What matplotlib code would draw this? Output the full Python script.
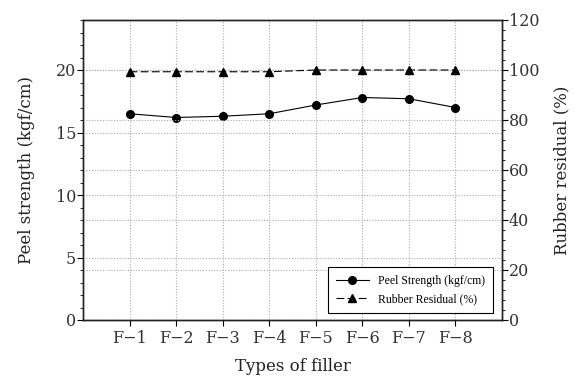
import matplotlib
matplotlib.use("Agg")
import matplotlib.pyplot as plt
from matplotlib.ticker import MultipleLocator

categories = ["F\u22121", "F\u22122", "F\u22123", "F\u22124", "F\u22125", "F\u22126", "F\u22127", "F\u22128"]
peel_strength = [16.5, 16.2, 16.3, 16.5, 17.2, 17.8, 17.7, 17.0]
rubber_residual = [99.3, 99.3, 99.3, 99.3, 100.0, 100.0, 100.0, 100.0]

plt.rcParams['font.family'] = ['DejaVu Serif']

fig = plt.figure(figsize=(5.83, 3.76), dpi=100)
ax = fig.add_axes([83/583, 1-320/376, (502-83)/583, 300/376])
ax2 = ax.twinx()

x = list(range(1, len(categories) + 1))
grid_kw = dict(color='#aaaaaa', linestyle=(0, (1, 1.5)), linewidth=0.8)

ax.set_xlim(0, 9)
ax.set_ylim(0, 24)
ax2.set_ylim(0, 120)
ax.set_xticks(x)
ax.set_xticklabels(categories)
ax.yaxis.set_major_locator(MultipleLocator(5))
ax.yaxis.set_minor_locator(MultipleLocator(1))
ax2.yaxis.set_major_locator(MultipleLocator(20))
ax2.yaxis.set_minor_locator(MultipleLocator(4))

ax.grid(True, which='major', axis='both', **grid_kw)
ax2.grid(True, which='major', axis='y', **grid_kw)
ax.set_axisbelow(True)
ax2.set_axisbelow(True)

l1, = ax.plot(x, peel_strength, color='black', marker='o', markersize=5.5,
              linewidth=0.8, label='Peel Strength (kgf/cm)', zorder=5)
l2, = ax2.plot(x, rubber_residual, color='black', marker='^', markersize=6,
               linewidth=0.8, linestyle=(0, (7, 3)), label='Rubber Residual (%)', zorder=5)

for a in (ax, ax2):
    a.tick_params(axis='both', which='major', direction='out', length=4, width=0.8,
                  labelsize=11.5, colors='black')
    a.tick_params(axis='both', which='minor', direction='out', length=2.5, width=0.6)
    for s in a.spines.values():
        s.set_linewidth(1.0)
        s.set_color('#222222')
for lab in ax.get_xticklabels() + ax.get_yticklabels() + ax2.get_yticklabels():
    lab.set_color('#333333')
ax.tick_params(axis='x', pad=3)
ax.tick_params(axis='y', pad=1)
ax2.tick_params(axis='y', pad=1)

ax.set_xlabel('Types of filler', fontsize=12, labelpad=8, color='#222222')
ax.set_ylabel('Peel strength (kgf/cm)', fontsize=12, labelpad=15, color='#222222')
ax2.set_ylabel('Rubber residual (%)', fontsize=12, labelpad=10, color='#222222')

leg = ax2.legend([l1, l2], [l1.get_label(), l2.get_label()], loc='lower right',
                 bbox_to_anchor=(0.9785, 0.023), borderaxespad=0, frameon=True,
                 fancybox=False, edgecolor='black', framealpha=1,
                 handlelength=2.8, borderpad=0.65, labelspacing=0.55,
                 prop={'family': 'Liberation Serif', 'size': 8.5})
leg.get_frame().set_linewidth(0.8)

fig.savefig('out.png', dpi=100)
